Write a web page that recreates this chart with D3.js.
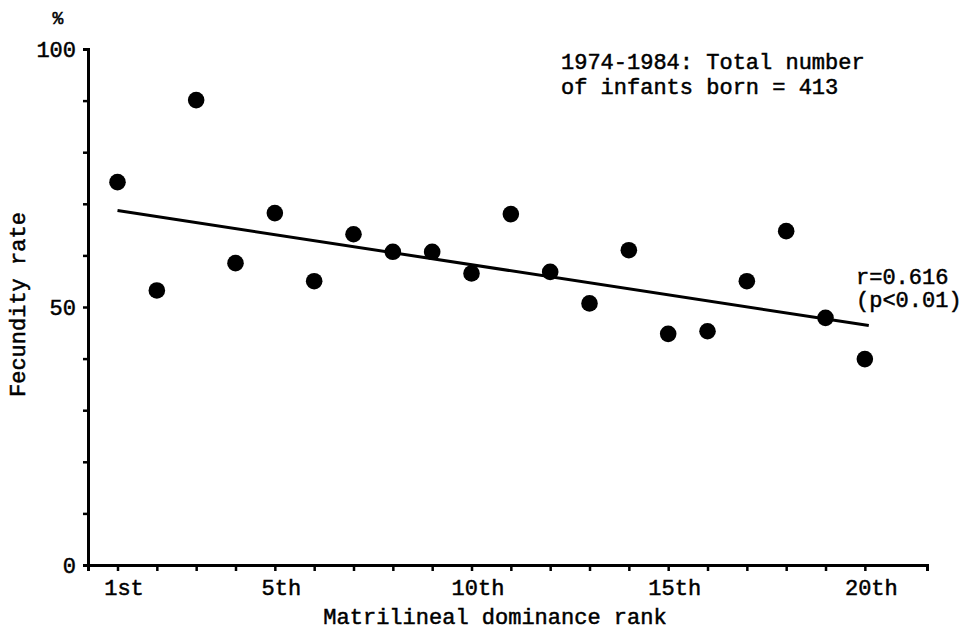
<!DOCTYPE html>
<html>
<head>
<meta charset="utf-8">
<script src="https://cdn.jsdelivr.net/npm/d3@7/dist/d3.min.js"></script>
<style>
  body { margin: 0; background: #fff; }
  svg text { font-family: "Liberation Mono", "DejaVu Sans Mono", monospace; fill: #000;
             stroke: #000; stroke-width: 0.5px; }
</style>
</head>
<body>
<div id="vis"></div>
<script>
// data
const ranks = d3.range(1, 21)
const fecundity = [74.2, 53.2, 90.1, 58.5, 68.2, 55.0, 64.1, 60.7, 60.7, 56.5,
                   68.0, 56.8, 50.7, 61.0, 44.8, 45.3, 55.0, 64.7, 47.9, 39.9]
const trend = [{rank: 1, value: 68.7}, {rank: 20.1, value: 46.4}]
const rankLabels = {1: '1st', 5: '5th', 10: '10th', 15: '15th', 20: '20th'}
const yTicks = d3.range(0, 101, 10)
const yLabels = [0, 50, 100]

const points = ranks.map((r, i) => ({rank: r, value: fecundity[i]}))

const width = 968, height = 632
const fontSize = 22

let svg = d3.select('#vis')
    .append('svg')
    .attr('width', width)
    .attr('height', height)

let x = d3.scaleLinear([0.25, 21.58], [88, 927])
let y = d3.scaleLinear([0, 100], [565, 49])

// x axis
let xAxis = svg.append('g')
    .attr('transform', `translate(0, ${y(0)})`)
    .call(d3.axisBottom(x)
        .tickValues(ranks)
        .tickSizeOuter(0)
        .tickSize(6)
        .tickFormat(d => rankLabels[d] || ''))
xAxis.select('.domain').attr('stroke-width', 3)
xAxis.selectAll('.tick line').attr('stroke-width', 2.5)
xAxis.selectAll('.tick text')
    .attr('font-size', fontSize)
    .attr('y', 30)
    .attr('dy', 0)
    .attr('dx', 6)
    .style('font-family', '"Liberation Mono", monospace')

// y axis
let yAxis = svg.append('g')
    .attr('transform', `translate(${x(0.25)}, 0)`)
    .call(d3.axisLeft(y)
        .tickValues(yTicks)
        .tickSizeOuter(0)
        .tickSize(5)
        .tickPadding(7)
        .tickFormat(d => yLabels.includes(d) ? d : ''))
yAxis.select('.domain').attr('stroke-width', 3)
yAxis.selectAll('.tick line').attr('stroke-width', 2.5)
yAxis.selectAll('.tick text')
    .attr('font-size', fontSize)
    .style('font-family', '"Liberation Mono", monospace')

// unit sign
svg.append('text')
    .attr('x', 58)
    .attr('y', 24)
    .attr('text-anchor', 'middle')
    .attr('font-size', fontSize - 4)
    .text('%')

// axis titles
svg.append('text')
    .attr('x', 495)
    .attr('y', 624)
    .attr('text-anchor', 'middle')
    .attr('font-size', fontSize)
    .text('Matrilineal dominance rank')

svg.append('text')
    .attr('transform', 'translate(25, 397) rotate(-90)')
    .attr('text-anchor', 'start')
    .attr('font-size', fontSize)
    .text('Fecundity rate')

// regression line
svg.append('line')
    .attr('x1', x(trend[0].rank))
    .attr('y1', y(trend[0].value))
    .attr('x2', x(trend[1].rank))
    .attr('y2', y(trend[1].value))
    .attr('stroke', '#000')
    .attr('stroke-width', 3)

// dots
svg.selectAll('circle')
    .data(points)
    .enter()
    .append('circle')
        .attr('cx', d => x(d.rank))
        .attr('cy', d => y(d.value))
        .attr('r', 8.3)
        .attr('fill', '#000')

// annotations
let note = svg.append('text')
    .attr('font-size', fontSize)
note.append('tspan').attr('x', 561).attr('y', 69).text('1974-1984: Total number')
note.append('tspan').attr('x', 561).attr('y', 94).text('of infants born = 413')

svg.append('text')
    .attr('font-size', fontSize)
    .attr('x', 856).attr('y', 284)
    .text('r=0.616')
svg.append('text')
    .attr('font-size', fontSize)
    .attr('x', 856).attr('y', 307)
    .text('(p<0.01)')
</script>
</body>
</html>
